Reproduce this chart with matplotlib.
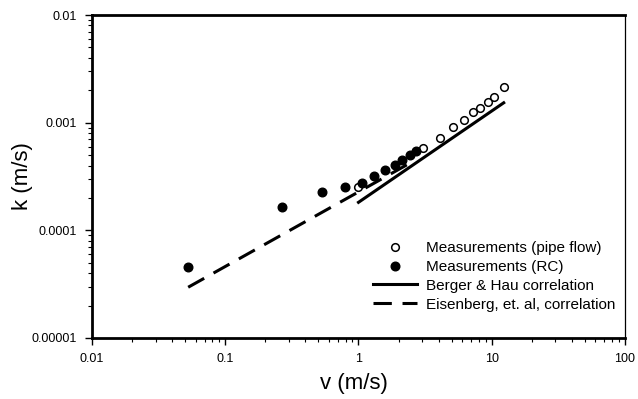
import numpy as np
import matplotlib.pyplot as plt

plt.rcParams['font.family'] = ['Liberation Sans', 'DejaVu Sans']

# measurements, pipe flow (open symbols)
v_pipe = [1.0, 3.03, 4.06, 5.09, 6.16, 7.19, 8.12, 9.33, 10.4, 12.3]
k_pipe = [2.55e-4, 5.87e-4, 7.26e-4, 9.18e-4, 1.07e-3, 1.26e-3, 1.38e-3, 1.56e-3, 1.74e-3, 2.15e-3]

# measurements, RC (filled symbols)
v_rc = [0.0527, 0.268, 0.536, 0.798, 1.07, 1.30, 1.57, 1.87, 2.11, 2.42, 2.68]
k_rc = [4.54e-5, 1.63e-4, 2.25e-4, 2.5e-4, 2.78e-4, 3.23e-4, 3.67e-4, 4.08e-4, 4.54e-4, 5.06e-4, 5.5e-4]

# correlations (straight lines on log-log)
v_berger = [1.0, 12.3]
k_berger = [1.82e-4, 1.53e-3]
v_eisen = [0.0527, 2.55]
k_eisen = [2.96e-5, 4.35e-4]

xticks = [0.01, 0.1, 1, 10, 100]
xticklabels = ['0.01', '0.1', '1', '10', '100']
yticks = [1e-5, 1e-4, 1e-3, 1e-2]
yticklabels = ['0.00001', '0.0001', '0.001', '0.01']

fig = plt.figure(figsize=(6.38, 3.99), dpi=100)
ax = fig.add_axes([0.1442, 0.1529, 0.8354, 0.8095])

lw = 2.2
ax.plot(v_pipe, k_pipe, 'o', ms=5.5, mfc='white', mec='black', mew=1.1,
        label='Measurements (pipe flow)', zorder=4)
ax.plot(v_rc, k_rc, 'o', ms=6.2, mfc='black', mec='black',
        label='Measurements (RC)', zorder=5)
ax.plot(v_berger, k_berger, '-', color='black', lw=lw,
        label='Berger & Hau correlation', zorder=3)
ax.plot(v_eisen, k_eisen, color='black', lw=lw, dashes=(6, 3.5),
        label='Eisenberg, et. al, correlation', zorder=3)

ax.set_xscale('log')
ax.set_yscale('log')
ax.set_xlim(0.01, 100)
ax.set_ylim(1e-5, 1e-2)
ax.set_xticks(xticks)
ax.set_xticklabels(xticklabels)
ax.set_yticks(yticks)
ax.set_yticklabels(yticklabels)

for side in ['left', 'bottom', 'top']:
    ax.spines[side].set_linewidth(2.0)
ax.spines['right'].set_linewidth(0.9)

ax.tick_params(which='major', direction='out', length=5, width=1.0,
               labelsize=9)
ax.tick_params(which='minor', direction='out', length=3, width=0.8)
ax.tick_params(axis='x', which='major', pad=6)
ax.tick_params(axis='y', which='major', pad=6)
ax.yaxis.set_minor_formatter(plt.NullFormatter())
ax.xaxis.set_minor_formatter(plt.NullFormatter())

ax.set_xlabel('v (m/s)', fontsize=16, va='center')
ax.set_ylabel('k (m/s)', fontsize=16, va='center')
ax.xaxis.set_label_coords(0.492, -0.142)
ax.yaxis.set_label_coords(-0.131, 0.5)

leg = ax.legend(loc='upper left', bbox_to_anchor=(373 / 638, 1 - 241 / 399),
                bbox_transform=fig.transFigure, frameon=False, fontsize=11,
                borderpad=0, borderaxespad=0, labelspacing=0.32,
                handlelength=2.9, handletextpad=0.6, numpoints=1)

fig.savefig('out.png', dpi=100)
